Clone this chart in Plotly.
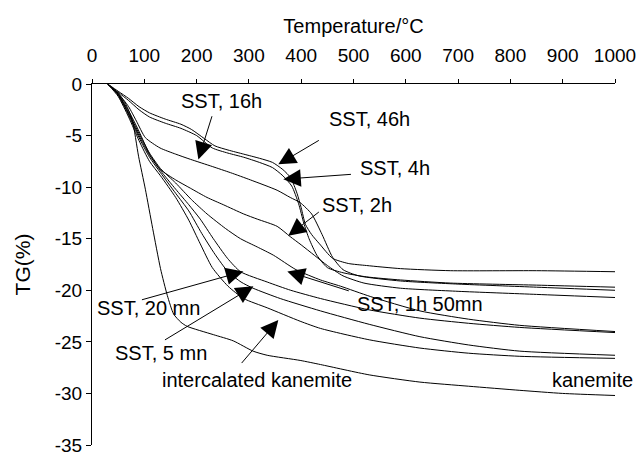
import plotly.graph_objects as go

# ---- data (Temperature °C, TG %) ----
t_46h = [30, 50, 70, 90, 110, 140, 170, 190, 215, 235, 260, 290, 320, 345, 365, 380, 392, 400, 408, 420, 435, 460, 490, 525, 590, 685, 850, 1000]
g_46h = [0, -0.7, -1.4, -2.2, -2.8, -3.4, -3.9, -4.4, -5.3, -6.0, -6.4, -6.8, -7.2, -7.6, -8.3, -9.1, -10.6, -12.0, -13.6, -14.6, -15.5, -16.9, -17.4, -17.6, -17.9, -18.1, -18.1, -18.2]

t_4h = [30, 50, 70, 90, 110, 140, 170, 200, 230, 260, 290, 320, 345, 365, 382, 395, 405, 415, 430, 450, 480, 525, 590, 685, 850, 1000]
g_4h = [0, -0.8, -1.6, -2.5, -3.2, -3.8, -4.3, -5.0, -6.2, -6.7, -7.1, -7.6, -8.1, -8.9, -9.9, -11.6, -13.5, -15.0, -16.6, -17.8, -18.3, -18.7, -19.0, -19.3, -19.5, -19.7]

t_16h = [30, 50, 70, 85, 102, 130, 160, 188, 230, 265, 303, 354, 379, 398, 420, 440, 460, 480, 510, 590, 700, 850, 1000]
g_16h = [0, -0.9, -2.2, -3.6, -5.2, -6.2, -6.8, -7.3, -8.0, -8.6, -9.3, -10.3, -11.0, -11.5, -12.6, -14.6, -16.8, -18.0, -18.6, -19.1, -19.4, -19.7, -20.0]

t_2h = [30, 50, 70, 90, 110, 131, 160, 188, 220, 251, 290, 316, 354, 379, 400, 425, 450, 480, 520, 590, 700, 850, 1000]
g_2h = [0, -1.0, -2.6, -4.6, -6.8, -8.3, -9.3, -10.1, -11.0, -11.7, -12.6, -13.1, -13.8, -14.8, -15.6, -16.6, -17.6, -18.6, -19.3, -19.8, -20.1, -20.4, -20.7]

t_1h50 = [30, 50, 70, 90, 110, 131, 160, 190, 220, 255, 284, 316, 347, 390, 437, 475, 532, 627, 720, 818, 1000]
g_1h50 = [0, -1.0, -2.8, -4.8, -6.7, -8.2, -9.6, -11.2, -12.6, -14.0, -15.0, -15.8, -16.6, -18.0, -19.0, -19.6, -20.6, -22.0, -22.8, -23.4, -24.0]

t_20mn = [30, 50, 70, 90, 110, 131, 160, 185, 207, 232, 259, 284, 335, 380, 437, 530, 627, 720, 818, 1000]
g_20mn = [0, -1.0, -2.9, -5.0, -6.9, -8.4, -10.2, -11.7, -13.1, -15.0, -16.9, -18.2, -19.2, -20.0, -20.8, -21.9, -22.7, -23.2, -23.6, -24.1]

t_5mn = [30, 50, 70, 90, 110, 131, 160, 185, 210, 235, 260, 285, 308, 360, 437, 530, 627, 720, 818, 1000]
g_5mn = [0, -1.1, -3.0, -5.2, -7.1, -8.6, -10.6, -12.3, -14.5, -16.5, -18.2, -19.2, -19.8, -20.8, -22.0, -23.3, -24.5, -25.3, -25.9, -26.3]

t_int = [30, 50, 70, 90, 110, 131, 160, 185, 207, 230, 260, 290, 335, 398, 437, 530, 627, 720, 818, 1000]
g_int = [0, -1.2, -3.2, -5.5, -7.5, -8.9, -11.0, -13.2, -15.5, -17.8, -19.6, -20.8, -21.7, -23.0, -23.7, -24.8, -25.6, -26.1, -26.4, -26.6]

t_kan = [30, 50, 65, 77, 89, 102, 116, 131, 144, 156, 170, 182, 232, 270, 308, 335, 398, 437, 530, 627, 720, 818, 900, 1000]
g_kan = [0, -0.9, -2.0, -3.5, -7.0, -10.2, -14.0, -17.9, -20.5, -22.3, -23.1, -23.5, -24.3, -24.9, -25.9, -26.3, -26.8, -27.2, -28.2, -28.9, -29.3, -29.7, -30.0, -30.2]

series = [
    ("SST, 46h", t_46h, g_46h),
    ("SST, 4h", t_4h, g_4h),
    ("SST, 16h", t_16h, g_16h),
    ("SST, 2h", t_2h, g_2h),
    ("SST, 1h 50mn", t_1h50, g_1h50),
    ("SST, 20 mn", t_20mn, g_20mn),
    ("SST, 5 mn", t_5mn, g_5mn),
    ("intercalated kanemite", t_int, g_int),
    ("kanemite", t_kan, g_kan),
]

# labels: text, text position (T, TG)
label_text = ["SST, 16h", "SST, 46h", "SST, 4h", "SST, 2h", "SST, 1h 50mn",
              "SST, 20 mn", "SST, 5 mn", "intercalated kanemite", "kanemite"]
label_t = [247.4, 530.1, 579.8, 507.2, 627.5, 107.9, 131.8, 316.2, 956.2]
label_g = [-1.63, -3.37, -8.17, -11.7, -21.35, -21.73, -26.06, -28.65, -28.65]

# arrows: tail (T, TG) -> tip (T, TG)
arrow_tail_t = [230.3, 436.6, 498.0, 436.6, 493.8, 92.6, 136.6, 283.7]
arrow_tail_g = [-2.98, -5.38, -8.75, -12.3, -20.1, -20.96, -24.9, -27.2]
arrow_tip_t = [203.4, 356.3, 365.8, 375.4, 373.5, 289.4, 308.5, 356.3]
arrow_tip_g = [-7.31, -7.79, -9.23, -14.71, -18.17, -18.17, -19.62, -22.88]

FONT = "Liberation Sans, Arial, sans-serif"

fig = go.Figure()
for name, t, g in series:
    fig.add_trace(go.Scatter(x=t, y=g, mode="lines", name=name,
                             line=dict(color="black", width=1, shape="spline", smoothing=0.6),
                             showlegend=False, hoverinfo="skip"))

annotations = []
for txt, x, y in zip(label_text, label_t, label_g):
    annotations.append(dict(x=x, y=y, xref="x", yref="y", text=txt, showarrow=False,
                            xanchor="center", yanchor="middle",
                            font=dict(family=FONT, size=20, color="black")))
for tx, ty, hx, hy in zip(arrow_tail_t, arrow_tail_g, arrow_tip_t, arrow_tip_g):
    annotations.append(dict(x=hx, y=hy, xref="x", yref="y", ax=tx, ay=ty,
                            axref="x", ayref="y", text="", showarrow=True,
                            arrowhead=2, arrowsize=3.5, arrowwidth=1, arrowcolor="black",
                            standoff=0))

fig.update_layout(
    width=639, height=457,
    margin=dict(l=92, r=24, t=84, b=12),
    paper_bgcolor="white", plot_bgcolor="white",
    font=dict(family=FONT, size=19, color="black"),
    annotations=annotations,
    xaxis=dict(range=[0, 1000], side="top", tickmode="array",
               tickvals=[0, 100, 200, 300, 400, 500, 600, 700, 800, 900, 1000],
               ticks="outside", ticklen=4, tickcolor="black", showline=True,
               linecolor="black", linewidth=1, showgrid=False, zeroline=False,
               tickfont=dict(size=19), ticklabelstandoff=9, automargin=False,
               title=dict(text="Temperature/°C", font=dict(size=20), standoff=6)),
    yaxis=dict(range=[-35, 0], tickmode="array",
               tickvals=[0, -5, -10, -15, -20, -25, -30, -35],
               ticktext=["0", "-5", "-10", "-15", "-20", "-25", "-30", "-35"],
               ticks="outside", ticklen=5, tickcolor="black", showline=True,
               linecolor="black", linewidth=1, showgrid=False, zeroline=False,
               tickfont=dict(size=19), ticklabeloverflow="allow", automargin=False,
               title=dict(text="TG(%)", font=dict(size=21), standoff=18)),
)

fig.write_html("out.html")
